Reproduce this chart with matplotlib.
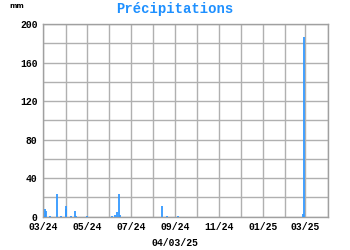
import numpy as np
import matplotlib
matplotlib.use("Agg")
import matplotlib.pyplot as plt
import matplotlib.dates as mdates

# pluie journaliere (mm)
jours = ["2024-03-03", "2024-03-04", "2024-03-05", "2024-03-10", "2024-03-20",
         "2024-03-25", "2024-04-01", "2024-04-02", "2024-04-08", "2024-04-14",
         "2024-04-15", "2024-05-01", "2024-06-05", "2024-06-09", "2024-06-11",
         "2024-06-14", "2024-06-16", "2024-08-13", "2024-08-20", "2024-09-04",
         "2025-02-26", "2025-02-27"]
pluie = [0.5, 8, 6, 0.5, 24,
         0.5, 11.5, 8.5, 0.5, 6,
         1, 1, 0.5, 2, 4.5,
         24, 2, 11, 0.5, 0.5,
         2.5, 186]

mois_ticks = ["2024-03-01", "2024-05-01", "2024-07-01", "2024-09-01",
              "2024-11-01", "2025-01-01", "2025-03-01"]
mois_labels = ["03/24", "05/24", "07/24", "09/24", "11/24", "01/25", "03/25"]
date_jour = "04/03/25"

bleu = "#3399ff"
police = "Liberation Mono"

fig = plt.figure(figsize=(3.5, 2.5), dpi=100)
ax = fig.add_axes([0.1237, 0.1332, 0.8126, 0.7708])

x = mdates.datestr2num(jours)
ax.vlines(x, 0, pluie, color=bleu, linewidth=1.3, zorder=3)

ax.set_xlim(mdates.datestr2num("2024-03-01"), mdates.datestr2num("2025-04-01"))
ax.set_ylim(0, 200)

# grille : un trait par mois, tous les 20 mm
grille_x = [mdates.date2num(np.datetime64("2024-03") + np.timedelta64(i, "M")) for i in range(14)]
ax.set_xticks(grille_x, minor=True)
ax.set_xticks(mdates.datestr2num(mois_ticks))
ax.set_xticklabels(mois_labels)
ax.set_yticks(np.arange(0, 201, 20), minor=True)
ax.set_yticks(np.arange(0, 201, 40))
ax.grid(which="both", color="#b0b0b0", linewidth=1)
ax.set_axisbelow(True)
for s in ax.spines.values():
    s.set_color("#a0a0a0")
    s.set_linewidth(1)

ax.tick_params(which="both", length=0)
ax.tick_params(axis="x", pad=4)
ax.tick_params(axis="y", pad=4)
for lab in ax.get_xticklabels() + ax.get_yticklabels():
    lab.set_fontfamily(police)
    lab.set_fontweight("bold")
    lab.set_fontsize(7)

fig.text(0.5, 0.965, "Précipitations", ha="center", va="center", color="#1e90ff",
         fontfamily=police, fontweight="bold", fontsize=10)
fig.text(0.028, 0.975, "mm", ha="left", va="center", fontfamily="DejaVu Sans",
         fontweight="bold", fontsize=5)
fig.text(0.5, 0.028, date_jour, ha="center", va="center", fontfamily=police,
         fontweight="bold", fontsize=7)

fig.savefig("out.png", dpi=100)
